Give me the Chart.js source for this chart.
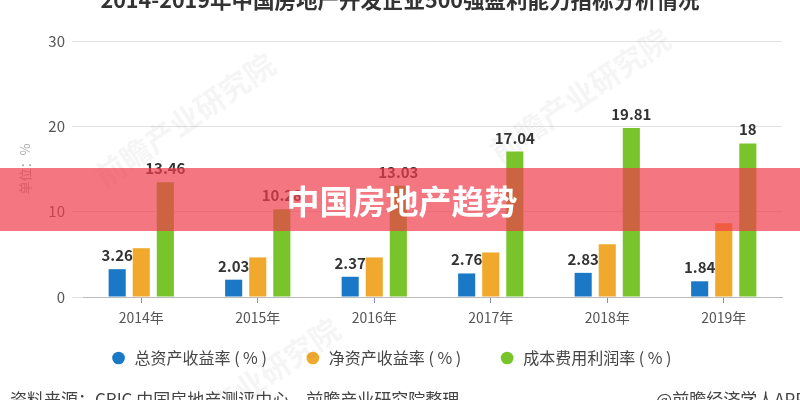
<!DOCTYPE html>
<html>
<head>
<meta charset="utf-8">
<script src="https://cdn.jsdelivr.net/npm/chart.js@4.4.0/dist/chart.umd.min.js"></script>
<style>
html,body{margin:0;padding:0;background:#fff;}
#wrap{width:800px;height:400px;position:relative;}
</style>
</head>
<body>
<div id="wrap"><canvas id="c" width="800" height="400"></canvas></div>
<script>
const categories = ['2014年','2015年','2016年','2017年','2018年','2019年'];
const seriesNames = ['总资产收益率 ( % )','净资产收益率 ( % )','成本费用利润率 ( % )'];
const roa = [3.26, 2.03, 2.37, 2.76, 2.83, 1.84];
const roe = [5.72, 4.64, 4.64, 5.22, 6.19, 8.64];
const costProfit = [13.46, 10.28, 13.03, 17.04, 19.81, 18];
const yTicks = [0, 10, 20, 30];
const titleText = '2014-2019年中国房地产开发企业500强盈利能力指标分析情况';
const sourceText = '资料来源：CRIC 中国房地产测评中心，前瞻产业研究院整理';
const creditText = '@前瞻经济学人APP';
const bannerText = '中国房地产趋势';
const labeledSeries = [0, 2];

const FONT = '"Noto Sans CJK SC", "Noto Sans", sans-serif';

const decor = {
  id: 'decor',
  beforeDatasetsDraw(chart) {
    const ctx = chart.ctx;
    ctx.save();
    ctx.fillStyle = 'rgba(120,120,120,0.07)';
    ctx.font = 'bold 30px ' + FONT;
    ctx.textAlign = 'center';
    ctx.textBaseline = 'middle';
    [[185, 120], [580, 95], [250, 385]].forEach(([x, y]) => {
      ctx.save();
      ctx.translate(x, y);
      ctx.rotate(-0.6);
      ctx.fillText('前瞻产业研究院', 0, 0);
      ctx.restore();
    });
    ctx.restore();
  },
  afterDatasetsDraw(chart) {
    const ctx = chart.ctx;
    ctx.save();
    ctx.font = 'bold 15px ' + FONT;
    ctx.fillStyle = '#333';
    ctx.textAlign = 'center';
    ctx.textBaseline = 'alphabetic';
    labeledSeries.forEach(di => {
      const meta = chart.getDatasetMeta(di);
      meta.data.forEach((bar, i) => {
        const v = chart.data.datasets[di].data[i];
        ctx.fillText(String(v), bar.x, bar.y - 8);
      });
    });
    ctx.restore();
  },
  afterDraw(chart) {
    const ctx = chart.ctx;
    ctx.save();
    // title (partially cut off at top)
    ctx.fillStyle = '#333';
    let fs = 22;
    ctx.font = 'bold ' + fs + 'px ' + FONT;
    const w = ctx.measureText(titleText).width;
    fs = fs * 600 / w;
    ctx.font = 'bold ' + fs.toFixed(1) + 'px ' + FONT;
    ctx.textAlign = 'center';
    ctx.textBaseline = 'middle';
    ctx.fillText(titleText, 400, 0);
    // source
    ctx.font = '17px ' + FONT;
    ctx.fillStyle = '#444';
    ctx.textAlign = 'left';
    ctx.fillText(sourceText, 10, 400);
    ctx.textAlign = 'right';
    ctx.fillText(creditText, 806, 400);
    // banner
    ctx.fillStyle = 'rgba(240,60,75,0.7)';
    ctx.fillRect(0, 168, 800, 63);
    ctx.fillStyle = '#fff';
    ctx.font = 'bold 33px ' + FONT;
    ctx.textAlign = 'center';
    ctx.fillText(bannerText, 402, 201);
    ctx.restore();
  }
};

new Chart(document.getElementById('c'), {
  type: 'bar',
  data: {
    labels: categories,
    datasets: [
      { label: seriesNames[0], data: roa, backgroundColor: '#1a78c6' },
      { label: seriesNames[1], data: roe, backgroundColor: '#f0a92c' },
      { label: seriesNames[2], data: costProfit, backgroundColor: '#78c42a' }
    ]
  },
  options: {
    responsive: false,
    animation: false,
    devicePixelRatio: 1,
    layout: { padding: { top: 41, right: 18, bottom: 24, left: 0 } },
    datasets: { bar: { categoryPercentage: 0.62, barPercentage: 0.71 } },
    plugins: {
      title: { display: false },
      tooltip: { enabled: false },
      legend: {
        position: 'bottom',
        labels: {
          usePointStyle: true,
          pointStyle: 'circle',
          boxWidth: 18,
          boxHeight: 9,
          padding: 6,
          color: '#444',
          font: { size: 16, family: FONT },
          generateLabels(chart) {
            const items = Chart.defaults.plugins.legend.labels.generateLabels(chart);
            items.forEach((it, i) => { if (i < items.length - 1) it.text = it.text + '\u3000\u3000'; });
            return items;
          }
        }
      }
    },
    scales: {
      x: {
        grid: { display: true, drawOnChartArea: false, drawTicks: true, tickLength: 6, offset: false, color: '#8a8fb0' },
        border: { display: true, color: '#bbb', width: 1 },
        ticks: { color: '#555', font: { size: 14, family: FONT }, padding: 6 },
        afterFit(scale) { scale.height = 47; }
      },
      y: {
        min: 0, max: 30,
        afterBuildTicks(scale) { scale.ticks = yTicks.map(v => ({ value: v })); },
        grid: { color: '#e2e2e2', tickLength: 11 },
        border: { display: false },
        ticks: { color: '#555', font: { size: 15, family: FONT }, padding: 7 },
        title: { display: true, text: '单位：%', color: '#aaa', font: { size: 13, family: FONT }, padding: { top: 17, bottom: 0 } },
        afterFit(scale) { scale.width = 83; }
      }
    }
  },
  plugins: [decor]
});
</script>
</body>
</html>
